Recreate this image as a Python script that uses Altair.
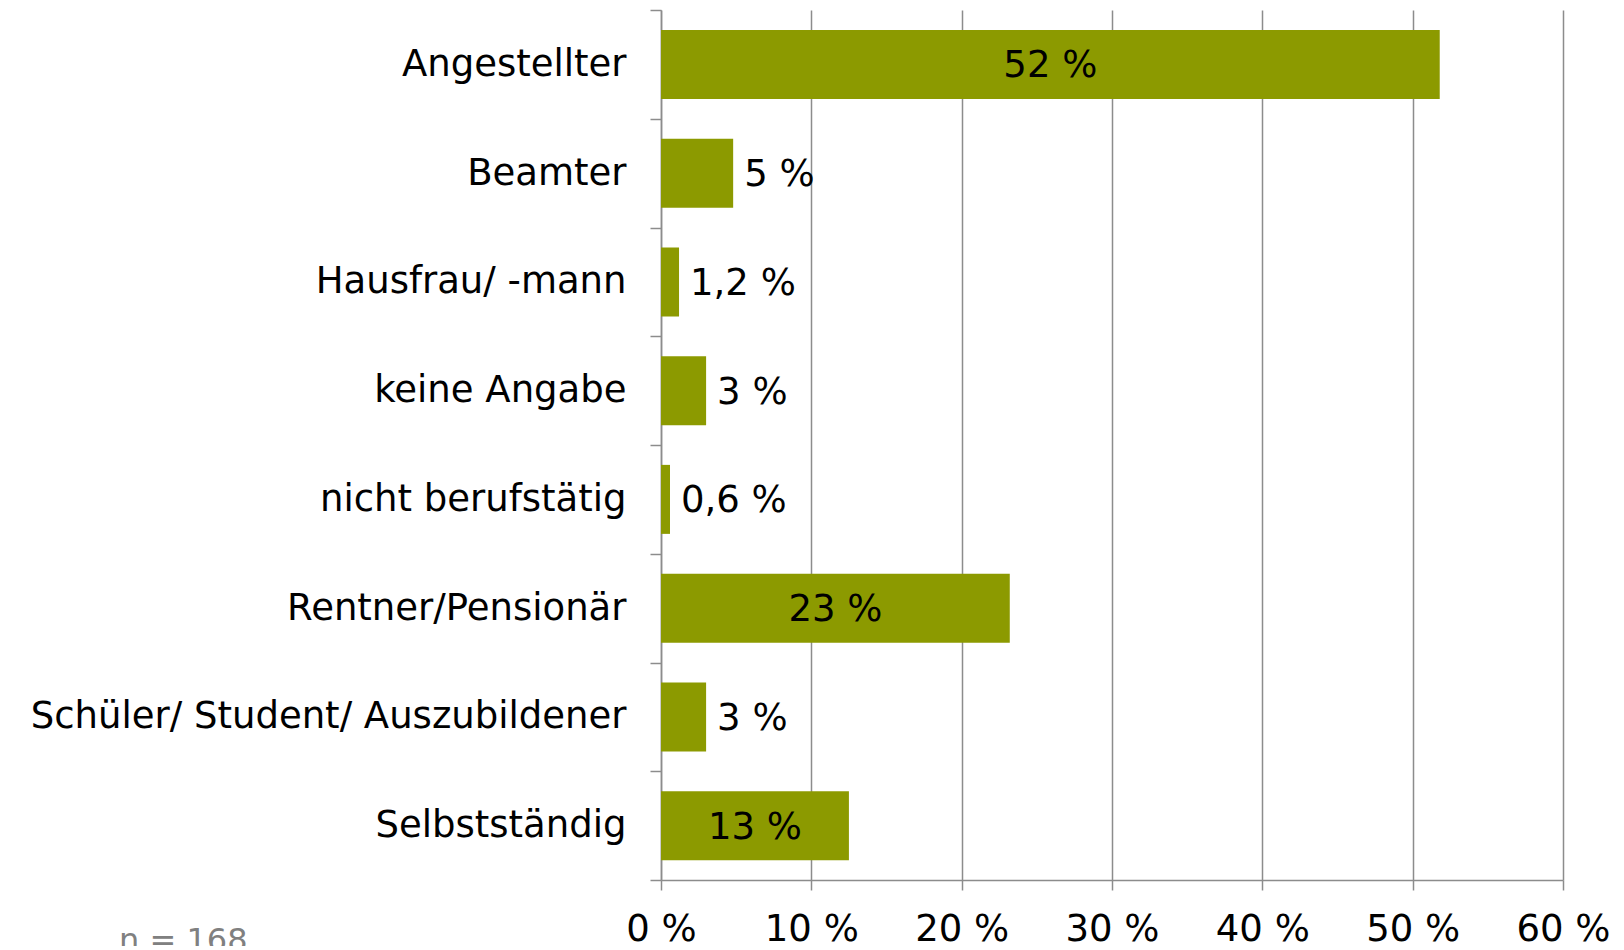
import altair as alt
import pandas as pd

categories = [
    "Angestellter",
    "Beamter",
    "Hausfrau/ -mann",
    "keine Angabe",
    "nicht berufstätig",
    "Rentner/Pensionär",
    "Schüler/ Student/ Auszubildener",
    "Selbstständig",
]
values = [51.8, 4.8, 1.2, 3.0, 0.6, 23.2, 3.0, 12.5]
value_labels = ["52 %", "5 %", "1,2 %", "3 %", "0,6 %", "23 %", "3 %", "13 %"]
label_inside = [True, False, False, False, False, True, False, True]
x_ticks = [0, 10, 20, 30, 40, 50, 60]
note_text = ["n = 168"]

df = pd.DataFrame({
    "cat": categories,
    "val": values,
    "lab": value_labels,
    "inside": label_inside,
})
df["half"] = df["val"] / 2

FONT = "DejaVu Sans"
FS = 37
GRID = "#8c8c8c"
BAR = "#8c9a00"

x_scale = alt.Scale(domain=[0, 60], nice=False, zero=True)
y_scale = alt.Scale(paddingInner=0, paddingOuter=0)

base = alt.Chart(df)

bars = base.mark_bar(color=BAR, size=69).encode(
    y=alt.Y("cat:N", sort=categories, scale=y_scale, title=None,
            axis=alt.Axis(tickBand="extent", domainColor=GRID, domainWidth=1.5,
                          tickColor=GRID, tickWidth=1.5, tickSize=11,
                          labelFont=FONT, labelFontSize=FS, labelColor="black",
                          labelPadding=24, grid=False, labelLimit=800)),
    x=alt.X("val:Q", scale=x_scale, title=None,
            axis=alt.Axis(values=x_ticks, labelExpr="datum.value + ' %'",
                          grid=True, gridColor=GRID, gridWidth=1.5,
                          domainColor=GRID, domainWidth=1.5,
                          tickColor=GRID, tickWidth=1.5, tickSize=10,
                          labelFont=FONT, labelFontSize=FS, labelColor="black",
                          labelPadding=21, labelFlush=False)),
)

text_in = base.transform_filter("datum.inside").mark_text(
    font=FONT, fontSize=FS, color="black", align="center", baseline="middle", dy=2
).encode(
    y=alt.Y("cat:N", sort=categories, scale=y_scale),
    x=alt.X("half:Q", scale=x_scale),
    text="lab:N",
)

text_out = base.transform_filter("!datum.inside").mark_text(
    font=FONT, fontSize=FS, color="black", align="left", baseline="middle", dx=11, dy=2
).encode(
    y=alt.Y("cat:N", sort=categories, scale=y_scale),
    x=alt.X("val:Q", scale=x_scale),
    text="lab:N",
)

note = alt.Chart(pd.DataFrame({"t": note_text})).mark_text(
    font=FONT, fontSize=32, color="#808080", align="left", baseline="alphabetic"
).encode(
    x=alt.value(-542),
    y=alt.value(941),
    text="t:N",
)

chart = alt.layer(bars, text_in, text_out, note).properties(
    width=902,
    height=870,
    autosize=alt.AutoSizeParams(type="none"),
    padding={"left": 653, "top": 2, "right": 53, "bottom": 66},
).configure_view(stroke=None)

chart.save("out.html", embed_options={"renderer": "svg", "actions": False})
